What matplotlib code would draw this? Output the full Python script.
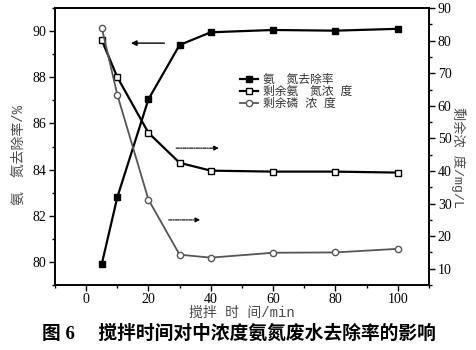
import matplotlib.pyplot as plt
from matplotlib.ticker import MultipleLocator

plt.rcParams['font.family'] = ['Liberation Serif', 'Noto Sans CJK SC']

# data
t = [5, 10, 20, 30, 40, 60, 80, 100]
nh3_removal = [79.9, 82.8, 87.05, 89.4, 89.95, 90.05, 90.02, 90.1]    # %
nh3_left = [80.2, 68.8, 51.7, 42.5, 40.1, 39.8, 39.8, 39.5]           # mg/L
p_left = [84.0, 63.4, 31.2, 14.3, 13.4, 14.9, 15.0, 16.1]             # mg/L

cjk = ['Liberation Mono', 'Noto Sans CJK SC', 'DejaVu Sans']
gray = '#4a4a4a'

fig = plt.figure(figsize=(4.77, 3.5), dpi=100)
ax = fig.add_axes([0.1153, 0.1857, 0.7837, 0.7913])
ax2 = ax.twinx()

l1, = ax.plot(t, nh3_removal, color='black', lw=1.6, marker='s', ms=4.5,
              mfc='black', mec='black', label='氨\u3000氮去除率')
l2, = ax2.plot(t, nh3_left, color='black', lw=1.6, marker='s', ms=4.5,
               mfc='white', mec='black', label='剩余氨\u3000氮浓 度')
l3, = ax2.plot(t, p_left, color='#555555', lw=1.3, marker='o', ms=4.5,
               mfc='white', mec='#555555', label='剩余磷 浓 度')

ax.set_xlim(-10, 110)
ax.set_ylim(79, 91)
ax2.set_ylim(5, 90)

ax.xaxis.set_major_locator(MultipleLocator(20))
ax.xaxis.set_minor_locator(MultipleLocator(10))
ax.yaxis.set_major_locator(MultipleLocator(2))
ax.yaxis.set_minor_locator(MultipleLocator(1))
ax2.yaxis.set_major_locator(MultipleLocator(10))
ax2.yaxis.set_minor_locator(MultipleLocator(5))

for a in (ax, ax2):
    a.tick_params(which='both', direction='out', labelsize=10, width=1, pad=2.5)
    a.tick_params(which='major', length=4)
    a.tick_params(which='minor', length=2.5)
    for s in a.spines.values():
        s.set_linewidth(1.2)
ax.tick_params(axis='x', top=False, pad=2)

ax.set_ylabel('氨\u3000氮去除率/%', family=cjk, fontsize=10, color=gray)
ax.yaxis.set_label_coords(-0.078, 0.47)
ax2.set_ylabel('剩余浓 度/mg/L', family=cjk, fontsize=9.5, color=gray,
               rotation=-90, va='bottom')
ax2.yaxis.set_label_coords(1.058, 0.46)
fig.text(0.507, 0.106, '搅拌 时 间/min', ha='center', va='center',
         family=cjk, fontsize=10, color=gray)

# arrows pointing to the axis each curve belongs to
ax.annotate('', xy=(13.5, 89.48), xytext=(26, 89.48),
            arrowprops=dict(arrowstyle='-|>', color='black', lw=1, mutation_scale=8))
ax.annotate('', xy=(43.5, 84.93), xytext=(28, 84.93),
            arrowprops=dict(arrowstyle='-|>', color='black', lw=0.8,
                            linestyle=(0, (3, 1, 1, 1)), mutation_scale=7))
ax.annotate('', xy=(37.5, 81.82), xytext=(25.6, 81.82),
            arrowprops=dict(arrowstyle='-|>', color='black', lw=0.8,
                            linestyle=(0, (3, 1, 1, 1)), mutation_scale=7))

leg = ax.legend(handles=[l1, l2, l3], loc='upper left', bbox_to_anchor=(0.48, 0.782),
                frameon=False, prop={'family': cjk, 'size': 8.5},
                handlelength=1.5, handletextpad=0.4, labelspacing=0.0, borderpad=0)
for txt in leg.get_texts():
    txt.set_color('#333333')

fig.text(0.5, 0.046, '图 6\u3000 搅拌时间对中浓度氨氮废水去除率的影响', ha='center', va='center',
         family=['Liberation Serif', 'Noto Sans CJK SC', 'DejaVu Sans'],
         fontsize=13.5, fontweight='bold')

fig.savefig('out.png', dpi=100)
